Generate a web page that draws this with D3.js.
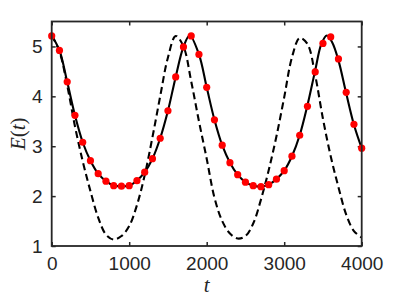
<!DOCTYPE html>
<html>
<head>
<meta charset="utf-8">
<script src="https://cdn.jsdelivr.net/npm/d3@7"></script>
<style>
  body { margin: 0; background: #fff; }
  .axisText { font-family: "Liberation Serif", "Times New Roman", serif; font-size: 21px; fill: #262626; }
</style>
</head>
<body>
<script>
// Data
// red dots, one every 100 in t
var dotT = d3.range(0, 4001, 100);
var dotE = [5.21, 4.92, 4.29, 3.62, 3.08, 2.71, 2.45, 2.30, 2.21, 2.20,
            2.21, 2.31, 2.48, 2.75, 3.16, 3.71, 4.39, 4.99, 5.21, 4.84,
            4.18, 3.53, 3.02, 2.67, 2.43, 2.28, 2.21, 2.19, 2.23, 2.34,
            2.51, 2.80, 3.22, 3.80, 4.49, 5.06, 5.19, 4.75, 4.08, 3.44,
            2.96];

// solid line
var solidT = [0, 100, 200, 300, 400, 500, 600, 700, 800, 900,
              1000, 1100, 1200, 1300, 1400, 1500, 1600, 1700, 1780, 1900,
              2000, 2100, 2200, 2300, 2400, 2500, 2600, 2700, 2800, 2900,
              3000, 3100, 3200, 3300, 3400, 3480, 3550, 3620, 3700, 3800,
              3900, 4000];
var solidE = [5.22, 4.92, 4.29, 3.62, 3.08, 2.71, 2.45, 2.30, 2.21, 2.20,
              2.21, 2.31, 2.48, 2.75, 3.16, 3.71, 4.39, 4.99, 5.22, 4.84,
              4.18, 3.53, 3.02, 2.67, 2.43, 2.28, 2.21, 2.19, 2.23, 2.34,
              2.51, 2.80, 3.22, 3.82, 4.52, 5.05, 5.22, 5.08, 4.72, 4.06,
              3.43, 2.96];

// dashed line
var dashT = d3.range(0, 4001, 100);
var dashE = [5.22, 4.90, 4.22, 3.40, 2.70, 2.10, 1.57, 1.23, 1.13, 1.20,
             1.40, 1.82, 2.42, 3.18, 4.00, 4.78, 5.21, 5.00, 4.30, 3.50,
             2.75, 1.97, 1.50, 1.25, 1.15, 1.20, 1.45, 1.93, 2.52, 3.20,
             3.98, 4.78, 5.17, 5.05, 4.42, 3.55, 2.80, 2.18, 1.63, 1.30,
             1.17];

var xTicks = [0, 1000, 2000, 3000, 4000];
var yTicks = [1, 2, 3, 4, 5];

// SVG area
var svgWidth = 399;
var svgHeight = 299;

var chartMargin = { top: 21.5, right: 37.3, bottom: 53, left: 51.7 };

var chartWidth = svgWidth - chartMargin.left - chartMargin.right;
var chartHeight = svgHeight - chartMargin.top - chartMargin.bottom;

var svg = d3.select("body")
  .append("svg")
  .attr("width", svgWidth)
  .attr("height", svgHeight)
  .style("background", "#fff");

var chartGroup = svg.append("g")
  .attr("transform", `translate(${chartMargin.left}, ${chartMargin.top})`);

// scales
var xLinearScale = d3.scaleLinear().domain([0, 4000]).range([0, chartWidth]);
var yLinearScale = d3.scaleLinear().domain([1, 5.5]).range([chartHeight, 0]);

// axes, ticks pointing inward like matlab
var bottomAxis = d3.axisBottom(xLinearScale).tickValues(xTicks).tickFormat(d3.format("d"))
  .tickSizeInner(-4).tickSizeOuter(0).tickPadding(11);
var leftAxis = d3.axisLeft(yLinearScale).tickValues(yTicks).tickFormat(d3.format("d"))
  .tickSizeInner(-4).tickSizeOuter(0).tickPadding(9);
var topAxis = d3.axisTop(xLinearScale).tickValues(xTicks).tickSizeInner(-4).tickSizeOuter(0).tickFormat("");
var rightAxis = d3.axisRight(yLinearScale).tickValues(yTicks).tickSizeInner(-4).tickSizeOuter(0).tickFormat("");

chartGroup.append("g").attr("transform", `translate(0, ${chartHeight})`).call(bottomAxis);
chartGroup.append("g").call(leftAxis);
chartGroup.append("g").call(topAxis);
chartGroup.append("g").attr("transform", `translate(${chartWidth}, 0)`).call(rightAxis);

chartGroup.selectAll(".domain").remove();
chartGroup.selectAll(".tick line").attr("stroke", "#262626").attr("stroke-width", 1.5);
chartGroup.selectAll(".tick text")
  .style("font-family", "'Liberation Sans', Arial, sans-serif")
  .style("font-size", "19px")
  .style("fill", "#262626");

// lines
var makeLine = d3.line()
  .x(function(d) { return xLinearScale(d[0]); })
  .y(function(d) { return yLinearScale(d[1]); })
  .curve(d3.curveCatmullRom.alpha(0.5));

chartGroup.append("path")
  .datum(dashT.map(function(t, i) { return [t, dashE[i]]; }))
  .attr("d", makeLine)
  .attr("fill", "none")
  .attr("stroke", "#000")
  .attr("stroke-width", 2.1)
  .attr("stroke-dasharray", "7,4");

chartGroup.append("path")
  .datum(solidT.map(function(t, i) { return [t, solidE[i]]; }))
  .attr("d", makeLine)
  .attr("fill", "none")
  .attr("stroke", "#000")
  .attr("stroke-width", 2.1);

// red dots
chartGroup.selectAll("circle")
  .data(dotT.map(function(t, i) { return [t, dotE[i]]; }))
  .enter()
  .append("circle")
  .attr("cx", function(d) { return xLinearScale(d[0]); })
  .attr("cy", function(d) { return yLinearScale(d[1]); })
  .attr("r", 3.6)
  .attr("fill", "#ff0000");

// box
chartGroup.append("rect")
  .attr("width", chartWidth)
  .attr("height", chartHeight)
  .attr("fill", "none")
  .attr("stroke", "#262626")
  .attr("stroke-width", 1.8);

// axis labels
chartGroup.append("text")
  .attr("class", "axisText")
  .attr("x", chartWidth / 2)
  .attr("y", chartHeight + 46)
  .attr("text-anchor", "middle")
  .style("font-style", "italic")
  .text("t");

var yLabel = chartGroup.append("text")
  .attr("class", "axisText")
  .attr("transform", `translate(-27, ${chartHeight / 2}) rotate(-90)`)
  .attr("text-anchor", "middle");
yLabel.append("tspan").style("font-style", "italic").text("E");
yLabel.append("tspan").text("(");
yLabel.append("tspan").style("font-style", "italic").text("t");
yLabel.append("tspan").text(")");
</script>
</body>
</html>
